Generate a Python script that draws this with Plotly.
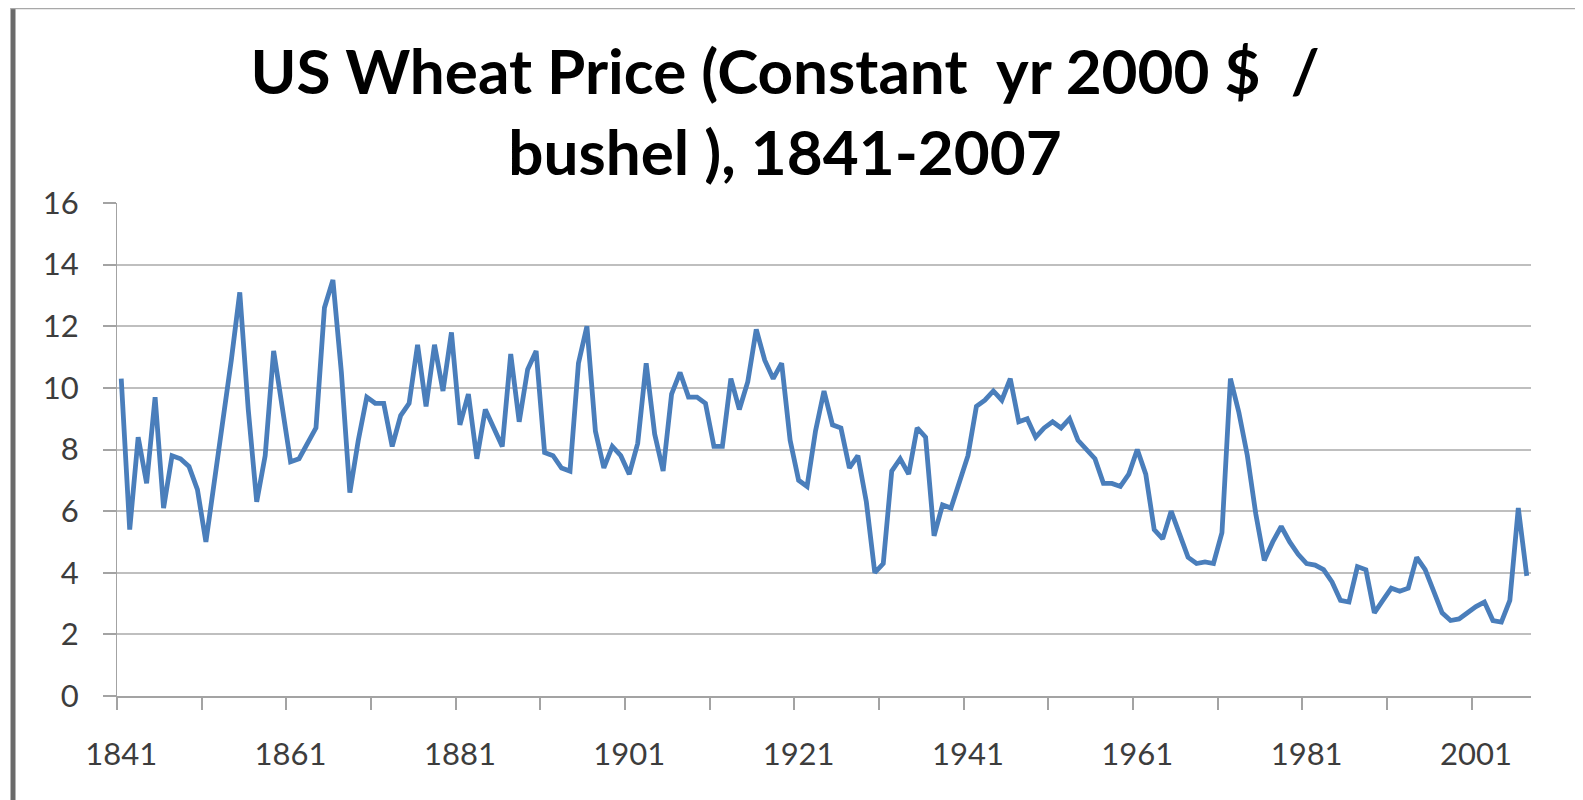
import plotly.graph_objects as go

# ---- data -------------------------------------------------------------
years = list(range(1841, 2008))
price = [
    10.3, 5.4, 8.4, 6.9, 9.7, 6.1, 7.8, 7.7, 7.45, 6.7,          # 1841-1850
    5.0, 6.9, 8.9, 10.9, 13.1, 9.3, 6.3, 7.8, 11.2, 9.3,         # 1851-1860
    7.6, 7.7, 8.2, 8.7, 12.6, 13.5, 10.5, 6.6, 8.3, 9.7,         # 1861-1870
    9.5, 9.5, 8.1, 9.1, 9.5, 11.4, 9.4, 11.4, 9.9, 11.8,         # 1871-1880
    8.8, 9.8, 7.7, 9.3, 8.7, 8.1, 11.1, 8.9, 10.6, 11.2,         # 1881-1890
    7.9, 7.8, 7.4, 7.3, 10.8, 12.0, 8.6, 7.4, 8.1, 7.8,          # 1891-1900
    7.2, 8.2, 10.8, 8.5, 7.3, 9.8, 10.5, 9.7, 9.7, 9.5,          # 1901-1910
    8.1, 8.1, 10.3, 9.3, 10.2, 11.9, 10.9, 10.3, 10.8, 8.3,      # 1911-1920
    7.0, 6.8, 8.6, 9.9, 8.8, 8.7, 7.4, 7.8, 6.3, 4.0,            # 1921-1930
    4.3, 7.3, 7.7, 7.2, 8.7, 8.4, 5.2, 6.2, 6.1, 7.0,            # 1931-1940
    7.8, 9.4, 9.6, 9.9, 9.6, 10.3, 8.9, 9.0, 8.4, 8.7,           # 1941-1950
    8.9, 8.7, 9.0, 8.3, 8.0, 7.7, 6.9, 6.9, 6.8, 7.2,            # 1951-1960
    8.0, 7.2, 5.4, 5.1, 6.0, 5.2, 4.5, 4.3, 4.35, 4.3,           # 1961-1970
    5.3, 10.3, 9.2, 7.8, 5.9, 4.4, 5.0, 5.5, 5.0, 4.6,           # 1971-1980
    4.3, 4.25, 4.1, 3.7, 3.1, 3.05, 4.2, 4.1, 2.7, 3.1,          # 1981-1990
    3.5, 3.4, 3.5, 4.5, 4.1, 3.4, 2.7, 2.45, 2.5, 2.7,           # 1991-2000
    2.9, 3.05, 2.45, 2.4, 3.1, 6.1, 3.9,                         # 2001-2007
]
label_years = list(range(1841, 2008, 20))
y_ticks = list(range(0, 17, 2))
title_text = "US Wheat Price (Constant\u00a0 yr 2000 $\u00a0 /<br>bushel ), 1841-2007"

# ---- layout constants -------------------------------------------------
W, H = 1583, 800
OFF = 8                      # page body margin offset
ML, MT = 117 - OFF, 203 - OFF
PW, PH = 1414, 493
MR, MB = W - ML - PW, H - MT - PH
x_lo, x_hi = years[0] - 0.5, years[-1] + 0.5
boundary_ticks = [x_lo + 10 * k for k in range(int((x_hi - x_lo) // 10) + 1)]

fig = go.Figure()
fig.add_trace(go.Scatter(
    x=years, y=price, mode="lines",
    line=dict(color="#4a7ebb", width=4.8),
    hoverinfo="x+y", showlegend=False,
))

grid_col = "#bfbfbf"
axis_col = "#a3a3a3"
tick_font = dict(family="Lato", size=31, color="#3d3d3d")

fig.update_xaxes(
    range=[x_lo, x_hi],
    tickmode="array", tickvals=label_years, ticktext=[str(v) for v in label_years],
    ticks="", showgrid=False, zeroline=False,
    showline=True, linecolor=axis_col, linewidth=1.5,
    tickfont=tick_font, ticklabelstandoff=30,
    minor=dict(tickmode="array", tickvals=boundary_ticks, ticks="outside",
               ticklen=12, tickwidth=1.5, tickcolor=axis_col, showgrid=False),
)
fig.update_yaxes(
    range=[0, 16],
    tickmode="array", tickvals=y_ticks,
    ticks="outside", ticklen=13, tickwidth=1.5, tickcolor=axis_col,
    showgrid=True, gridcolor=grid_col, gridwidth=1.6,
    zeroline=False, showline=True, linecolor=axis_col, linewidth=1.2,
    tickfont=tick_font, ticklabelstandoff=18,
)

def px2paper_x(px):
    return (px - OFF - ML) / PW
def py2paper_y(py):
    return (MT + PH - (py - OFF)) / PH

shapes = [
    dict(type="line", xref="paper", yref="paper",
         x0=px2paper_x(13), x1=px2paper_x(13), y0=py2paper_y(6), y1=py2paper_y(H + 10),
         line=dict(color="#6a6a6a", width=5)),
    dict(type="line", xref="paper", yref="paper",
         x0=px2paper_x(11), x1=px2paper_x(W + 10), y0=py2paper_y(8), y1=py2paper_y(8),
         line=dict(color="#a8a8a8", width=2.5)),
]

fig.update_layout(
    width=W, height=H,
    margin=dict(l=ML, r=MR, t=MT, b=MB, pad=0),
    paper_bgcolor="white", plot_bgcolor="white",
    title=dict(text=title_text, x=777 / W, xanchor="center",
               yref="container", y=1 - 86 / H, yanchor="top",
               font=dict(family="Lato", size=62, color="#000000", weight=700)),
    shapes=shapes,
)

fig.write_html("out.html")
